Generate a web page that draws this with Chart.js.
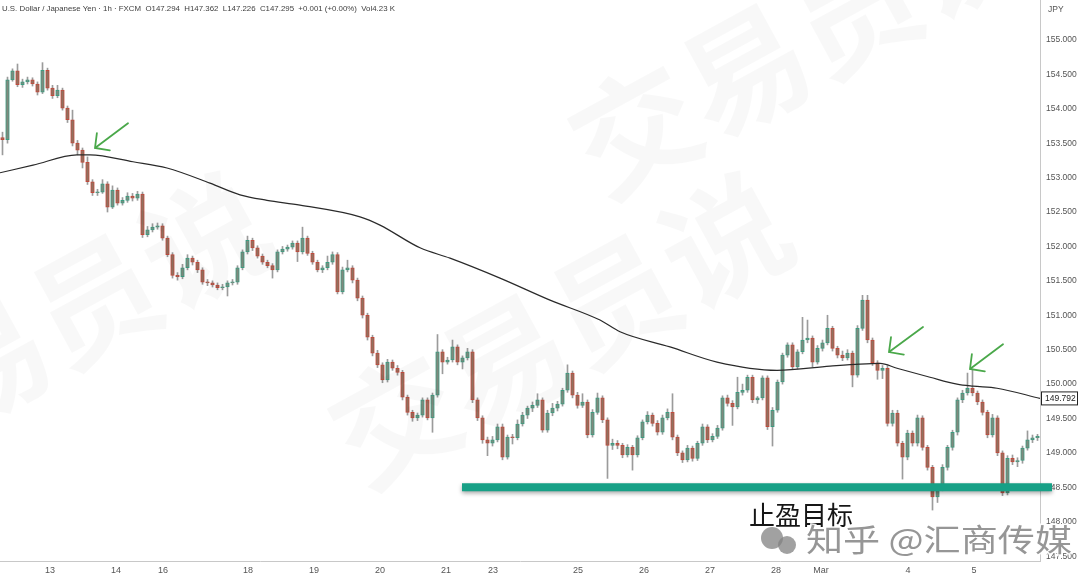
<!DOCTYPE html>
<html>
<head>
<meta charset="utf-8">
<script src="https://cdn.jsdelivr.net/npm/chart.js@4.4.1/dist/chart.umd.min.js"></script>
<style>
  html, body { margin:0; padding:0; background:#fff; }
  #wrap { width:1080px; height:577px; }
</style>
</head>
<body>
<div id="wrap"><canvas id="chart" width="1080" height="577"></canvas></div>
<script>
/* ======= Dados (USD/JPY 1h) ======= */
const OPEN = [
153.58,153.55,154.42,154.55,154.35,154.39,154.42,154.36,154.24,154.56,154.30,154.19,154.27,154.01,153.84,153.50,153.40,153.22,152.94,152.78,
152.79,152.91,152.57,152.82,152.63,152.67,152.73,152.70,152.76,152.17,152.24,152.28,152.30,152.12,151.88,151.58,151.56,151.69,151.83,151.77,
151.66,151.48,151.47,151.44,151.40,151.41,151.47,151.48,151.69,151.92,152.09,151.98,151.86,151.77,151.72,151.66,151.92,151.96,151.99,152.05,
151.92,152.12,151.90,151.77,151.66,151.69,151.77,151.88,151.34,151.66,151.69,151.51,151.25,151.00,150.68,150.45,150.28,150.06,150.32,150.23,
150.17,149.81,149.59,149.51,149.55,149.77,149.51,149.84,150.47,150.32,150.35,150.54,150.32,150.38,150.47,149.77,149.51,149.19,149.14,149.19,
149.38,148.94,149.23,149.22,149.42,149.55,149.65,149.69,149.77,149.33,149.58,149.65,149.71,149.91,150.16,149.84,149.69,149.74,149.26,149.59,
149.80,149.48,149.11,149.14,149.11,148.97,149.08,148.97,149.22,149.45,149.55,149.43,149.30,149.51,149.59,149.23,149.00,148.90,149.07,148.92,
149.14,149.38,149.19,149.24,149.36,149.80,149.72,149.67,149.88,149.91,150.10,149.77,149.80,150.09,149.38,149.62,150.03,150.42,150.57,150.25,
150.47,150.64,150.67,150.32,150.52,150.60,150.81,150.52,150.42,150.38,150.45,150.13,150.81,151.22,150.64,150.31,150.20,150.23,149.43,149.58,
149.14,148.94,149.29,149.14,149.51,149.08,148.79,148.36,148.49,148.79,149.08,149.30,149.77,149.87,149.94,149.87,149.74,149.59,149.26,149.51,
149.00,148.42,148.92,148.87,148.89,149.07,149.19,149.22
];
const HIGH = [
153.66,154.46,154.58,154.65,154.43,154.46,154.45,154.39,154.67,154.59,154.34,154.34,154.30,154.04,153.98,153.54,153.43,153.30,152.97,152.83,
152.97,152.94,152.88,152.85,152.71,152.78,152.77,152.80,152.79,152.29,152.33,152.34,152.33,152.15,151.91,151.62,151.74,151.88,151.86,151.80,
151.69,151.52,151.50,151.47,151.45,151.50,151.52,151.72,151.95,152.15,152.12,152.01,151.89,151.80,151.75,151.95,152.00,152.02,152.08,152.08,
152.28,152.15,151.93,151.80,151.72,151.86,151.92,151.91,151.70,151.80,151.72,151.54,151.28,151.03,150.71,150.49,150.31,150.36,150.35,150.27,
150.20,149.84,149.62,149.58,149.80,149.80,149.87,150.72,150.50,150.39,150.64,150.57,150.41,150.52,150.50,149.80,149.54,149.23,149.24,149.42,
149.42,149.26,149.27,149.48,149.59,149.68,149.74,149.86,149.80,149.62,149.72,149.75,149.94,150.28,150.19,149.88,149.86,149.77,149.63,149.87,
149.83,149.51,149.20,149.18,149.14,149.12,149.11,149.25,149.48,149.60,149.58,149.47,149.55,149.64,149.86,149.26,149.03,149.11,149.10,149.17,
149.42,149.41,149.28,149.40,149.83,149.84,149.76,150.10,150.00,150.13,150.13,149.82,150.12,150.12,149.66,150.06,150.45,150.60,150.60,150.50,
150.97,150.93,150.70,150.56,150.64,151.00,150.84,150.55,150.48,150.50,150.48,150.85,151.29,151.29,150.67,150.34,150.27,150.27,149.62,149.62,
149.17,149.33,149.32,149.55,149.54,149.11,148.82,148.53,148.83,149.11,149.33,149.80,149.91,150.16,150.20,149.90,149.77,149.62,149.56,149.54,
149.03,148.96,148.97,148.93,149.10,149.32,149.26,149.27
];
const LOW = [
153.33,153.50,154.40,154.32,154.31,154.36,154.33,154.20,154.22,154.27,154.15,154.16,153.98,153.80,153.46,153.33,153.14,152.90,152.74,152.74,
152.77,152.50,152.55,152.60,152.60,152.64,152.66,152.67,152.13,152.14,152.21,152.25,152.09,151.85,151.54,151.51,151.53,151.66,151.73,151.62,
151.45,151.43,151.41,151.37,151.37,151.28,151.44,151.45,151.66,151.89,151.94,151.83,151.74,151.69,151.54,151.63,151.89,151.93,151.96,151.78,
151.89,151.87,151.74,151.63,151.62,151.66,151.74,151.31,151.31,151.63,151.47,151.21,150.96,150.64,150.41,150.24,150.02,150.03,150.20,150.13,
149.77,149.55,149.46,149.47,149.52,149.48,149.30,149.81,150.15,150.29,150.32,150.28,150.22,150.35,149.73,149.47,149.14,148.96,149.10,149.16,
148.90,148.91,149.13,149.19,149.39,149.50,149.60,149.66,149.30,149.30,149.54,149.61,149.68,149.88,149.80,149.65,149.66,149.22,149.23,149.56,
149.44,148.63,149.05,149.06,148.93,148.94,148.75,148.94,149.19,149.42,149.39,149.26,149.27,149.48,149.19,148.96,148.86,148.87,148.88,148.89,
149.11,149.15,149.16,149.21,149.33,149.68,149.40,149.64,149.84,149.88,149.73,149.72,149.77,149.34,149.10,149.59,150.00,150.39,150.21,150.22,
150.44,150.60,150.25,150.29,150.48,150.57,150.48,150.38,150.34,150.35,149.96,150.10,150.78,150.60,150.27,150.07,150.08,149.39,149.39,149.10,
148.62,148.90,149.10,149.10,149.04,148.75,148.17,148.28,148.45,148.75,149.04,149.26,149.73,149.84,149.83,149.70,149.55,149.22,149.23,148.96,
148.38,148.39,148.83,148.80,148.85,149.04,149.15,149.18
];
const CLOSE = [
153.55,154.42,154.55,154.35,154.39,154.42,154.36,154.24,154.56,154.30,154.19,154.27,154.01,153.84,153.50,153.40,153.22,152.94,152.78,152.79,
152.91,152.57,152.82,152.63,152.67,152.73,152.70,152.76,152.17,152.24,152.28,152.30,152.12,151.88,151.58,151.56,151.69,151.83,151.77,151.66,
151.48,151.47,151.44,151.40,151.41,151.47,151.48,151.69,151.92,152.09,151.98,151.86,151.77,151.72,151.66,151.92,151.96,151.99,152.05,151.92,
152.12,151.90,151.77,151.66,151.69,151.77,151.88,151.34,151.66,151.69,151.51,151.25,151.00,150.68,150.45,150.28,150.06,150.32,150.23,150.17,
149.81,149.59,149.51,149.55,149.77,149.51,149.84,150.47,150.32,150.35,150.54,150.32,150.38,150.47,149.77,149.51,149.19,149.14,149.19,149.38,
148.94,149.23,149.22,149.42,149.55,149.65,149.69,149.77,149.33,149.58,149.65,149.71,149.91,150.16,149.84,149.69,149.74,149.26,149.59,149.80,
149.48,149.11,149.14,149.11,148.97,149.08,148.97,149.22,149.45,149.55,149.43,149.30,149.51,149.59,149.23,149.00,148.90,149.07,148.92,149.14,
149.38,149.19,149.24,149.36,149.80,149.72,149.67,149.88,149.91,150.10,149.77,149.80,150.09,149.38,149.62,150.03,150.42,150.57,150.25,150.47,
150.64,150.67,150.32,150.52,150.60,150.81,150.52,150.42,150.38,150.45,150.13,150.81,151.22,150.64,150.31,150.20,150.23,149.43,149.58,149.14,
148.94,149.29,149.14,149.51,149.08,148.79,148.36,148.49,148.79,149.08,149.30,149.77,149.87,149.94,149.87,149.74,149.59,149.26,149.51,149.00,
148.42,148.92,148.87,148.89,149.07,149.19,149.22,149.24
];

const MA_IDX = [-0.5, 6.1, 14.9, 17.5, 26.1, 32.9, 41.5, 47.5, 52.9, 59.5, 71.5, 75.5, 83.5, 89.5, 99.5, 109.5, 119.5, 123.5, 133.5, 142.9, 154.9, 165.5, 171.5, 175.5, 178.9, 185.5, 190.9, 194.1, 198.9, 207.5];
const MA_VAL = [153.07, 153.18, 153.33, 153.33, 153.23, 153.14, 152.92, 152.75, 152.67, 152.60, 152.43, 152.31, 151.98, 151.83, 151.54, 151.22, 150.93, 150.76, 150.54, 150.32, 150.20, 150.26, 150.29, 150.30, 150.23, 150.10, 150.00, 149.97, 149.94, 149.792];

// eixo X: posição (índice da vela) e rótulo de cada dia
const DAY_IDX    = [9.5, 22.7, 32.1, 49.1, 62.3, 75.5, 88.7, 98.1, 115.1, 128.3, 141.5, 154.7, 163.7, 181.1, 194.3];
const DAY_LABELS = ['13','14','16','18','19','20','21','23','25','26','27','28','Mar','4','5'];

// eixo Y
const Y_TICKS = [147.5, 148.0, 148.5, 149.0, 149.5, 150.0, 150.5, 151.0, 151.5, 152.0, 152.5, 153.0, 153.5, 154.0, 154.5, 155.0];

// linha alvo (止盈目标) e setas verdes
const TARGET_PRICE = 148.5;
const TARGET_FROM = 91.9, TARGET_TO = 209.9;
const ARROWS = [ // [idx cauda, preço cauda, idx ponta, preço ponta]
  [25.1, 153.79, 18.5, 153.43],
  [184.1, 150.83, 177.3, 150.465],
  [200.1, 150.58, 193.5, 150.22]
];

const TITLE = 'U.S. Dollar / Japanese Yen · 1h · FXCM  O147.294  H147.362  L147.226  C147.295  +0.001 (+0.00%)  Vol4.23 K';

/* ======= Cores ======= */
const UP_FILL = '#7f8a7e', UP_EDGE = '#3b9c80';
const DN_FILL = '#93705f', DN_EDGE = '#c24a3c';
const WICK = '#9b9b9b';

const idx = OPEN.map((_, i) => i);
const isUp = idx.map(i => CLOSE[i] >= OPEN[i]);

const wickData = idx.map(i => ({ x: i, y: [LOW[i], HIGH[i]] }));
const bodyData = idx.map(i => ({ x: i, y: [Math.min(OPEN[i], CLOSE[i]), Math.max(OPEN[i], CLOSE[i])] }));
const maData   = MA_IDX.map((x, k) => ({ x: x, y: MA_VAL[k] }));

/* ======= Plugin de desenho extra ======= */
const extras = {
  id: 'extras',
  beforeDraw(chart) {
    const c = chart.ctx;
    c.save(); c.fillStyle = '#fff'; c.fillRect(0, 0, chart.width, chart.height); c.restore();
  },
  beforeDatasetDraw(chart, args) {
    if (args.index === 3) {
      const c = chart.ctx;
      c.save();
      c.shadowColor = 'rgba(0,0,0,0.35)';
      c.shadowBlur = 4;
      c.shadowOffsetY = 2;
    }
  },
  afterDatasetDraw(chart, args) {
    if (args.index === 3) chart.ctx.restore();
  },
  afterDraw(chart) {
    const c = chart.ctx;
    const xs = chart.scales.x, ys = chart.scales.y;

    // marca d'água grande (bem clara)
    c.save();
    c.fillStyle = 'rgba(0,0,0,0.028)';
    c.font = 'bold 125px "Noto Sans CJK SC"';
    c.textBaseline = 'middle';
    const spots = [[560, 330], [800, 40], [40, 330]];
    for (const [px, py] of spots) {
      c.save(); c.translate(px, py); c.rotate(-0.5); c.fillText('交易员说', -250, 0); c.restore();
    }
    c.restore();

    // título
    c.save();
    c.font = '10px "Liberation Sans"';
    const w10 = c.measureText(TITLE).width;
    c.font = (10 * 393 / w10).toFixed(2) + 'px "Liberation Sans"';
    c.fillStyle = '#3d3d3d';
    c.textBaseline = 'middle';
    c.fillText(TITLE, 2, 9);
    // JPY
    c.font = '8.5px "Liberation Sans"';
    c.fillStyle = '#555';
    c.fillText('JPY', 1048, 10);
    c.restore();

    // etiqueta do preço da média
    const last = MA_VAL[MA_VAL.length - 1];
    const ty = ys.getPixelForValue(last);
    c.save();
    c.fillStyle = '#fff';
    c.strokeStyle = '#222';
    c.lineWidth = 1;
    c.fillRect(1041, ty - 7, 37, 14);
    c.strokeRect(1041.5, ty - 6.5, 36, 13);
    c.fillStyle = '#222';
    c.font = '8.5px "Liberation Sans"';
    c.textBaseline = 'middle';
    c.fillText(last.toFixed(3), 1045, ty + 0.5);
    c.restore();

    // setas verdes
    c.save();
    c.strokeStyle = '#4aa84a';
    c.lineWidth = 1.8;
    c.lineCap = 'round';
    for (const [ti, tp, hi, hp] of ARROWS) {
      const x0 = xs.getPixelForValue(ti), y0 = ys.getPixelForValue(tp);
      const x1 = xs.getPixelForValue(hi), y1 = ys.getPixelForValue(hp);
      const back = Math.atan2(y0 - y1, x0 - x1);
      c.beginPath();
      c.moveTo(x0, y0); c.lineTo(x1, y1);
      c.moveTo(x1 + 15 * Math.cos(back - 0.8), y1 + 15 * Math.sin(back - 0.8));
      c.lineTo(x1, y1);
      c.lineTo(x1 + 15 * Math.cos(back + 0.8), y1 + 15 * Math.sin(back + 0.8));
      c.stroke();
    }
    c.restore();

    // texto do alvo
    c.save();
    c.font = '26px "Noto Sans CJK SC"';
    c.fillStyle = '#161616';
    c.textBaseline = 'alphabetic';
    c.fillText('止盈目标', 749, 525);
    c.restore();

    // marca d'água 知乎
    c.save();
    c.fillStyle = 'rgba(130,130,130,0.75)';
    c.beginPath(); c.arc(772, 538, 11, 0, Math.PI * 2); c.fill();
    c.beginPath(); c.arc(787, 545, 9, 0, Math.PI * 2); c.fill();
    c.font = '31px "Noto Sans CJK SC"';
    const ww = c.measureText('知乎 @汇商传媒').width;
    c.translate(806, 551);
    c.scale(266 / ww, 1);
    c.lineWidth = 3;
    c.strokeStyle = 'rgba(255,255,255,0.9)';
    c.textBaseline = 'alphabetic';
    c.strokeText('知乎 @汇商传媒', 0, 0);
    c.fillStyle = 'rgba(120,120,120,0.78)';
    c.fillText('知乎 @汇商传媒', 0, 0);
    c.restore();
  }
};

/* ======= Gráfico ======= */
new Chart(document.getElementById('chart').getContext('2d'), {
  type: 'bar',
  data: {
    datasets: [
      { type:'bar', data: wickData, backgroundColor: WICK, barThickness: 1, grouped: false, order: 4 },
      { type:'bar', data: bodyData,
        backgroundColor: idx.map(i => isUp[i] ? UP_FILL : DN_FILL),
        borderColor: idx.map(i => isUp[i] ? UP_EDGE : DN_EDGE),
        borderWidth: 1, borderSkipped: false, barThickness: 3.6, minBarLength: 1, grouped: false, order: 3 },
      { type:'line', data: maData, borderColor:'#2a2a2a', borderWidth: 1.2, pointRadius: 0,
        cubicInterpolationMode: 'monotone', order: 2 },
      { type:'line', data: [{ x: TARGET_FROM, y: TARGET_PRICE }, { x: TARGET_TO, y: TARGET_PRICE }],
        borderColor:'#17a086', borderWidth: 8, pointRadius: 0, clip: false, borderCapStyle: 'butt', order: 1 }
    ]
  },
  options: {
    responsive: false,
    animation: false,
    devicePixelRatio: 1,
    layout: { padding: 0 },
    plugins: { legend: { display: false }, tooltip: { enabled: false } },
    scales: {
      x: {
        type: 'linear', min: -0.5, max: 207.5, offset: false,
        grid: { display: false, drawTicks: false, tickLength: 0 },
        border: { display: true, color: '#c8c8c8' },
        afterBuildTicks: s => { s.ticks = DAY_IDX.map(v => ({ value: v })); },
        ticks: { autoSkip: false, maxRotation: 0, padding: 4, color: '#555',
                 font: { size: 9, family: '"Liberation Sans"' },
                 callback: (v, i) => DAY_LABELS[i] },
        afterFit: s => { s.height = 16; s.paddingLeft = 0; s.paddingRight = 0; }
      },
      y: {
        type: 'linear', position: 'right', min: 147.43, max: 155.58,
        grid: { display: false, drawTicks: false, tickLength: 0 },
        border: { display: true, color: '#c8c8c8' },
        afterBuildTicks: s => { s.ticks = Y_TICKS.map(v => ({ value: v })); },
        ticks: { padding: 6, color: '#555', font: { size: 8.5, family: '"Liberation Sans"' },
                 callback: v => v.toFixed(3) },
        afterFit: s => { s.width = 40; s.paddingTop = 0; s.paddingBottom = 0; }
      }
    }
  },
  plugins: [extras]
});
</script>
</body>
</html>
